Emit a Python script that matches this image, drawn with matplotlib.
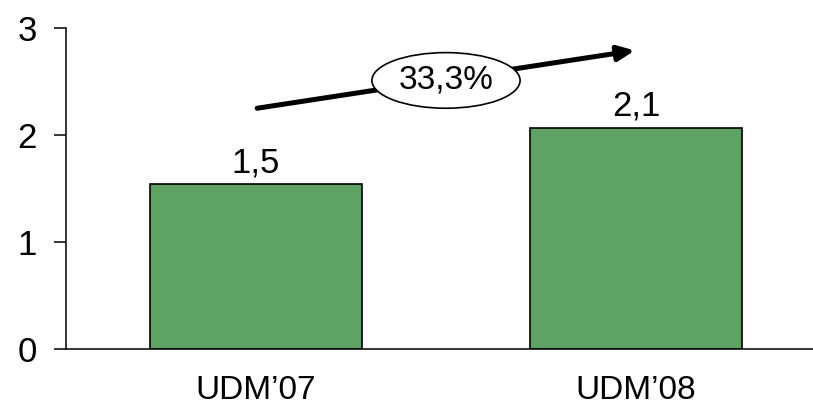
import matplotlib
matplotlib.use("Agg")
import matplotlib.pyplot as plt
from matplotlib.patches import Ellipse

categories = ["UDM\u201907", "UDM\u201908"]
values = [1.54, 2.07]
value_labels = ["1,5", "2,1"]
growth_label = "33,3%"
yticks = [0, 1, 2, 3]

plt.rcParams['font.family'] = ['Liberation Sans', 'DejaVu Sans']

fig = plt.figure(figsize=(8.13, 4.09), dpi=100)
ax = fig.add_axes([66/813, 60/409, 760/813, 321/409])

x = list(range(len(categories)))
ax.bar(x, values, width=0.558, color='#5FA364', edgecolor='black', linewidth=1.2, zorder=2)

for xi, v, lab in zip(x, values, value_labels):
    ax.annotate(lab, (xi, v), xytext=(0, 8.5), textcoords='offset points',
                ha='center', va='baseline', fontsize=25)

ax.set_xlim(-0.5, 1.5)
ax.set_ylim(0, 3)
ax.set_yticks(yticks)
ax.set_yticklabels([str(t) for t in yticks], fontsize=25)
ax.set_xticks(x)
ax.set_xticklabels(categories, fontsize=24)
ax.tick_params(axis='x', length=0, pad=19)
ax.tick_params(axis='y', length=9, width=1.1, pad=12, direction='out')

for s in ['top', 'right']:
    ax.spines[s].set_visible(False)
for s in ['left', 'bottom']:
    ax.spines[s].set_linewidth(1.1)
    ax.spines[s].set_color('black')

# growth arrow
ax.annotate('', xy=(0.997, 2.79), xytext=(0.003, 2.25),
            arrowprops=dict(arrowstyle='-|>,head_length=1.0,head_width=0.45',
                            lw=3.6, color='black', shrinkA=0, shrinkB=0),
            annotation_clip=False, zorder=3)

ell = Ellipse((0.5, 2.51), width=0.39, height=0.52, facecolor='white',
              edgecolor='black', linewidth=1.2, zorder=4, clip_on=False)
ax.add_patch(ell)
ax.text(0.5, 2.51, growth_label, ha='center', va='center', fontsize=24, zorder=5)

fig.savefig("out.png", dpi=100)
